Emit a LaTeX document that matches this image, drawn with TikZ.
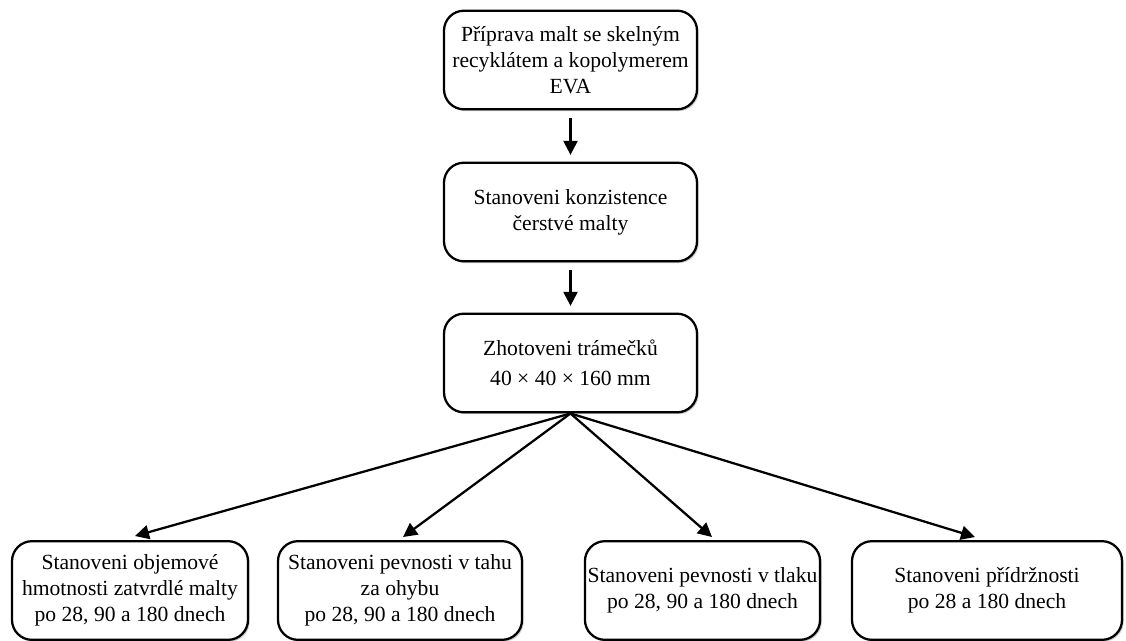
\documentclass[tikz,border=0pt]{standalone}
\usepackage{fontspec}
\setmainfont{Liberation Serif}
\usetikzlibrary{arrows.meta,shadows}
\begin{document}
\begin{tikzpicture}[x=0.75pt,y=-0.75pt,
  box/.style={draw=black, line width=1.7pt, rounded corners=15pt, fill=white,
    align=center, minimum height=74pt, inner sep=2pt,
    font=\fontsize{16.2}{19.5}\selectfont,
    drop shadow={shadow xshift=1.3pt, shadow yshift=-1.3pt, opacity=0.35, fill=black!60}},
  arr/.style={line width=1.7pt, -{Triangle[length=10.5pt,width=10.5pt]}}]
\useasboundingbox (0,0) rectangle (1126,640);
\node[box, minimum width=189.75pt] (b1) at (570.5,60) {Příprava malt se skelným\\recyklátem a kopolymerem\\EVA};
\node[box, minimum width=189.75pt] (b2) at (570.5,212) {Stanoveni konzistence\\čerstvé malty};
\node[box, minimum width=189.75pt] (b3) at (570.5,363) {Zhotoveni trámečků\\[3pt]40 × 40 × 160 mm};
\node[box, minimum width=177pt] (bA) at (130,590.5) {Stanoveni objemové\\hmotnosti zatvrdlé malty\\po 28, 90 a 180 dnech};
\node[box, minimum width=183pt] (bB) at (400,590.5) {Stanoveni pevnosti v tahu\\za ohybu\\po 28, 90 a 180 dnech};
\node[box, minimum width=173pt] (bC) at (702.5,590.5) {Stanoveni pevnosti v tlaku\\po 28, 90 a 180 dnech};
\node[box, minimum width=202.5pt] (bD) at (987,590.5) {Stanoveni přídržnosti\\po 28 a 180 dnech};
\coordinate (tA) at (135,536);
\coordinate (tB) at (403,537);
\coordinate (tC) at (712,537);
\coordinate (tD) at (975,537);
\draw[arr, shorten <=6pt, shorten >=5pt] (b1.south) -- (b2.north);
\draw[arr, shorten <=6pt, shorten >=5pt] (b2.south) -- (b3.north);
\draw[arr] (b3.south) -- (tA);
\draw[arr] (b3.south) -- (tB);
\draw[arr] (b3.south) -- (tC);
\draw[arr] (b3.south) -- (tD);
\end{tikzpicture}
\end{document}
